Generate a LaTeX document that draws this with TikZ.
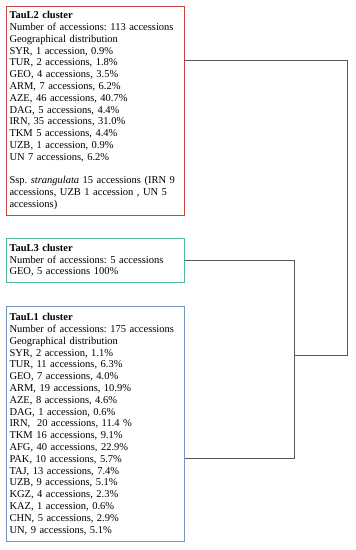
\documentclass[tikz,border=0pt]{standalone}
\usepackage{fontspec}
\setmainfont{Liberation Serif}
\definecolor{taulred}{RGB}{204,66,66}
\definecolor{taulgreen}{RGB}{78,184,154}
\definecolor{taulblue}{RGB}{118,148,196}
\definecolor{linkgray}{RGB}{88,88,88}
\tikzset{
  clusterbox/.style={draw, line width=1pt, anchor=north west, align=left,
    text width=172pt, inner xsep=3pt, inner ysep=5.5pt,
    font=\fontsize{10.5}{11.8}\selectfont\frenchspacing},
  link/.style={draw=linkgray, line width=0.8pt}
}
\begin{document}
\begin{tikzpicture}[x=1pt, y=-1pt]
  \useasboundingbox (0,0) rectangle (356,550);

  % Cluster boxes
  \node[clusterbox, draw=taulred] (tl2) at (6,5.5) {%
    \textbf{TauL2 cluster}\\
    Number of accessions: 113 accessions\\
    Geographical distribution\\
    SYR, 1 accession, 0.9\%\\
    TUR, 2 accessions, 1.8\%\\
    GEO, 4 accessions, 3.5\%\\
    ARM, 7 accessions, 6.2\%\\
    AZE, 46 accessions, 40.7\%\\
    DAG, 5 accessions, 4.4\%\\
    IRN, 35 accessions, 31.0\%\\
    TKM 5 accessions, 4.4\%\\
    UZB, 1 accession, 0.9\%\\
    UN 7 accessions, 6.2\%\\[11.8pt]
    Ssp. \textit{strangulata} 15 accessions (IRN 9\\
    accessions, UZB 1 accession , UN 5\\
    accessions)};

  \node[clusterbox, draw=taulgreen] (tl3) at (6,238) {%
    \textbf{TauL3 cluster}\\
    Number of accessions: 5 accessions\\
    GEO, 5 accessions 100\%};

  \node[clusterbox, draw=taulblue, inner ysep=7pt] (tl1) at (6,306) {%
    \textbf{TauL1 cluster}\\
    Number of accessions: 175 accessions\\
    Geographical distribution\\
    SYR, 2 accession, 1.1\%\\
    TUR, 11 accessions, 6.3\%\\
    GEO, 7 accessions, 4.0\%\\
    ARM, 19 accessions, 10.9\%\\
    AZE, 8 accessions, 4.6\%\\
    DAG, 1 accession, 0.6\%\\
    IRN,\ \ 20 accessions, 11.4 \%\\
    TKM 16 accessions, 9.1\%\\
    AFG, 40 accessions, 22.9\%\\
    PAK, 10 accessions, 5.7\%\\
    TAJ, 13 accessions, 7.4\%\\
    UZB, 9 accessions, 5.1\%\\
    KGZ, 4 accessions, 2.3\%\\
    KAZ, 1 accession, 0.6\%\\
    CHN, 5 accessions, 2.9\%\\
    UN, 9 accessions, 5.1\%};

  % Joints of the tree
  \coordinate (jtop) at (347,60);
  \coordinate (jmid) at (347,355);
  \coordinate (jin) at (294,261);
  \coordinate (jlow) at (294,458);

  % Inner link: TauL3 with TauL1
  \draw[link] (tl3.east) -- (jin |- tl3.east) -- (jlow) -- (tl1.east |- jlow);

  % Outer link: TauL2 with the inner pair
  \draw[link] (tl2.east |- jtop) -- (jtop) -- (jmid) -- (jin |- jmid);

\end{tikzpicture}
\end{document}
